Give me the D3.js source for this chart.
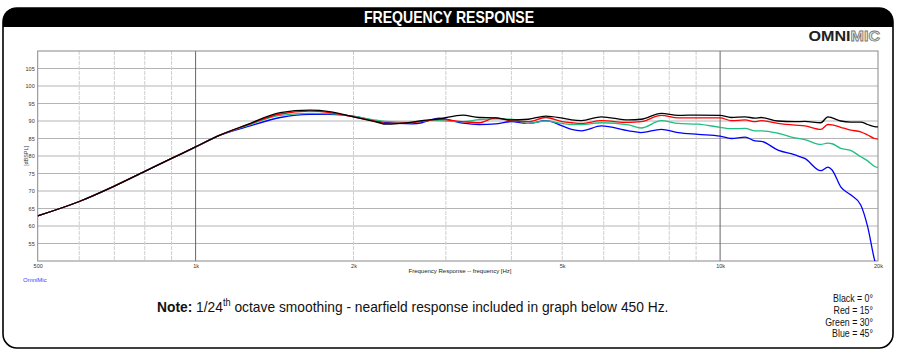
<!DOCTYPE html>
<html><head><meta charset="utf-8">
<script src="https://cdn.jsdelivr.net/npm/d3@7"></script>
<style>
html,body{margin:0;padding:0;background:#fff;}
svg{display:block;}
.sans{font-family:"Liberation Sans",Arial,sans-serif;}
</style>
</head><body>
<svg id="chart" width="898" height="358"></svg>
<script>
// ---- data ----
const freqs = [500,600,700,800,900,1000,1110,1250,1450,1650,1800,2000,2240,2300,2590,2700,2790,2910,3230,3470,3730,4000,4310,4650,5000,5210,5440,5940,6690,7070,7720,8320,9080,10000,10500,11160,11660,11970,12890,13890,14500,15560,16050,16350,16980,17740,18540,19110,19700,20000];
const black0 = [62.9,67.0,71.4,75.6,79.3,82.6,85.9,88.9,92.4,93.1,92.7,91.2,89.5,89.1,89.7,90.1,90.3,90.6,91.7,91.0,90.9,90.3,90.5,91.4,90.8,90.3,90.1,91.2,90.3,90.5,92.2,91.6,91.7,91.6,91.0,91.2,90.8,91.0,90.0,89.8,89.9,89.5,91.2,90.9,90.0,89.7,89.7,89.0,88.4,88.3];
const red15 = [62.9,67.0,71.4,75.6,79.3,82.6,85.9,88.8,92.0,92.8,92.4,91.2,89.7,89.3,89.6,89.9,90.2,90.5,89.8,89.5,90.9,90.0,89.8,91.0,89.8,89.5,89.3,90.1,89.6,89.8,91.6,90.9,90.9,90.9,90.1,90.3,89.8,90.1,89.3,88.8,88.6,87.6,89.0,88.9,88.2,87.4,86.9,86.0,85.0,84.8];
const green30 = [62.9,67.0,71.4,75.6,79.3,82.6,85.9,88.6,91.6,92.2,92.1,91.3,90.1,89.9,89.6,89.9,90.2,90.1,89.8,90.4,90.6,90.5,89.3,90.0,89.3,89.0,89.0,89.5,88.9,88.0,90.1,89.3,89.1,88.2,87.8,87.9,87.2,87.2,86.5,85.2,84.7,83.3,83.7,83.5,82.2,81.6,79.8,78.6,77.0,76.7];
const blue45 = [62.9,67.0,71.4,75.6,79.3,82.6,85.9,88.3,91.0,91.9,91.9,91.4,89.8,89.6,89.2,89.5,90.2,90.8,89.4,89.0,89.2,89.8,89.3,90.1,88.6,87.6,87.2,88.6,87.2,86.7,87.6,86.7,86.2,85.7,85.0,85.4,84.3,84.2,81.7,80.3,79.3,75.8,76.8,76.0,71.2,68.9,66.0,59.8,50.3,47.0];
const seriesNames = ["Black","Red","Green","Blue"];
const seriesAngles = ["0°","15°","30°","45°"];
const yTicks = [55,60,65,70,75,80,85,90,95,100,105];
const xTickVals = [500,1000,2000,5000,10000,20000];
const xTickLabels = ["500","1k","2k","5k","10k","20k"];
const minorFreqs = [600,700,800,900,2000,3000,4000,5000,6000,7000,8000,9000];
const majorFreqs = [1000,10000];

const colors = ["#000000","#ff0000","#1fbf7f","#0000ff"];
const seriesData = [black0, red15, green30, blue45];

const svg = d3.select("#chart");
const px0 = 37.7, px1 = 878, py0 = 51, py1 = 261;
const x = d3.scaleLog().domain([500,20000]).range([px0,px1]);
const y = d3.scaleLinear().domain([50,110]).range([py1,py0]);

// narrow text helper (horizontal compression)
function narrowText(parent, tx, ty, sx){
  return parent.append("g").attr("transform",`translate(${tx},${ty}) scale(${sx},1)`)
    .append("text").attr("class","sans").attr("x",0).attr("y",0);
}

// outer frame
svg.append("rect").attr("x",3).attr("y",8).attr("width",890).attr("height",340)
  .attr("rx",14).attr("fill","#fff").attr("stroke","#000").attr("stroke-width",1.6);
svg.append("path").attr("d","M3,27 V22 Q3,8 17,8 H879 Q893,8 893,22 V27 Z").attr("fill","#000");
narrowText(svg,449,23,0.88).attr("text-anchor","middle").attr("fill","#fff")
  .attr("font-weight","bold").attr("font-size",16).text("FREQUENCY RESPONSE");

// logo
const logo = narrowText(svg,880,41,1.15).attr("text-anchor","end")
  .attr("font-weight","bold").attr("font-size",14);
logo.append("tspan").attr("fill","#222").text("OMNI");
logo.append("tspan").attr("fill","#f2f2f2").attr("stroke","#777").attr("stroke-width",0.8).text("MIC");

// grid
const g = svg.append("g");
g.selectAll(".hg").data(yTicks).enter().append("line")
  .attr("x1",px0).attr("x2",px1).attr("y1",d=>y(d)).attr("y2",d=>y(d))
  .attr("stroke","#b4b4b4").attr("stroke-width",1);
g.selectAll(".vg").data(minorFreqs).enter().append("line")
  .attr("x1",d=>x(d)).attr("x2",d=>x(d)).attr("y1",py0).attr("y2",py1)
  .attr("stroke","#cfcfcf").attr("stroke-width",1).attr("stroke-dasharray","4,1");
g.selectAll(".vm").data(majorFreqs).enter().append("line")
  .attr("x1",d=>x(d)).attr("x2",d=>x(d)).attr("y1",py0).attr("y2",py1)
  .attr("stroke","#666").attr("stroke-width",1);
g.append("rect").attr("x",px0).attr("y",py0).attr("width",px1-px0).attr("height",py1-py0)
  .attr("fill","none").attr("stroke","#888").attr("stroke-width",1);

// axes labels
const yAxis = d3.axisLeft(y).tickValues(yTicks).tickSize(0).tickPadding(3);
const ya = svg.append("g").attr("transform",`translate(${px0},0)`).call(yAxis);
ya.select(".domain").remove();
ya.selectAll("text").attr("font-size",5.5).attr("font-family","Liberation Sans, Arial").attr("fill","#333");
const xAxis = d3.axisBottom(x).tickValues(xTickVals).tickFormat((d,i)=>xTickLabels[i]).tickSize(0).tickPadding(3);
const xa = svg.append("g").attr("transform",`translate(0,${py1})`).call(xAxis);
xa.select(".domain").remove();
xa.selectAll("text").attr("font-size",5.5).attr("font-family","Liberation Sans, Arial").attr("fill","#333");

svg.append("text").attr("class","sans").attr("transform","translate(28,156) rotate(-90)")
  .attr("text-anchor","middle").attr("font-size",5.5).attr("fill","#333").text("[dBSPL]");
svg.append("text").attr("class","sans").attr("x",460).attr("y",273)
  .attr("text-anchor","middle").attr("font-size",6).attr("fill","#222").text("Frequency Response -- frequency [Hz]");
svg.append("text").attr("class","sans").attr("x",23).attr("y",282)
  .attr("font-size",6).attr("fill","#3344ff").text("OmniMic");

// curves
svg.append("clipPath").attr("id","pc").append("rect")
  .attr("x",px0).attr("y",py0).attr("width",px1-px0).attr("height",py1-py0);
const line = d3.line().x(d=>x(d[0])).y(d=>y(d[1])).curve(d3.curveMonotoneX);
const curves = svg.append("g").attr("clip-path","url(#pc)");
[3,2,1,0].forEach(i=>{
  curves.append("path").datum(freqs.map((f,j)=>[f,seriesData[i][j]]))
    .attr("d",line).attr("fill","none").attr("stroke",colors[i]).attr("stroke-width",1.3)
    .attr("stroke-linejoin","round");
});

// note
const note = narrowText(svg,157,312,0.92).attr("font-size",15).attr("fill","#111");
note.append("tspan").attr("font-weight","bold").text("Note:");
note.append("tspan").text(" 1/24");
note.append("tspan").attr("font-size",10).attr("dy",-6).text("th");
note.append("tspan").attr("dy",6).text(" octave smoothing - nearfield response included in graph below 450 Hz.");

// legend
seriesNames.forEach((d,i)=>{
  narrowText(svg,873,302+i*11.8,0.88).attr("text-anchor","end")
    .attr("font-size",10).attr("fill","#111").text(`${d} = ${seriesAngles[i]}`);
});
</script>
</body></html>
